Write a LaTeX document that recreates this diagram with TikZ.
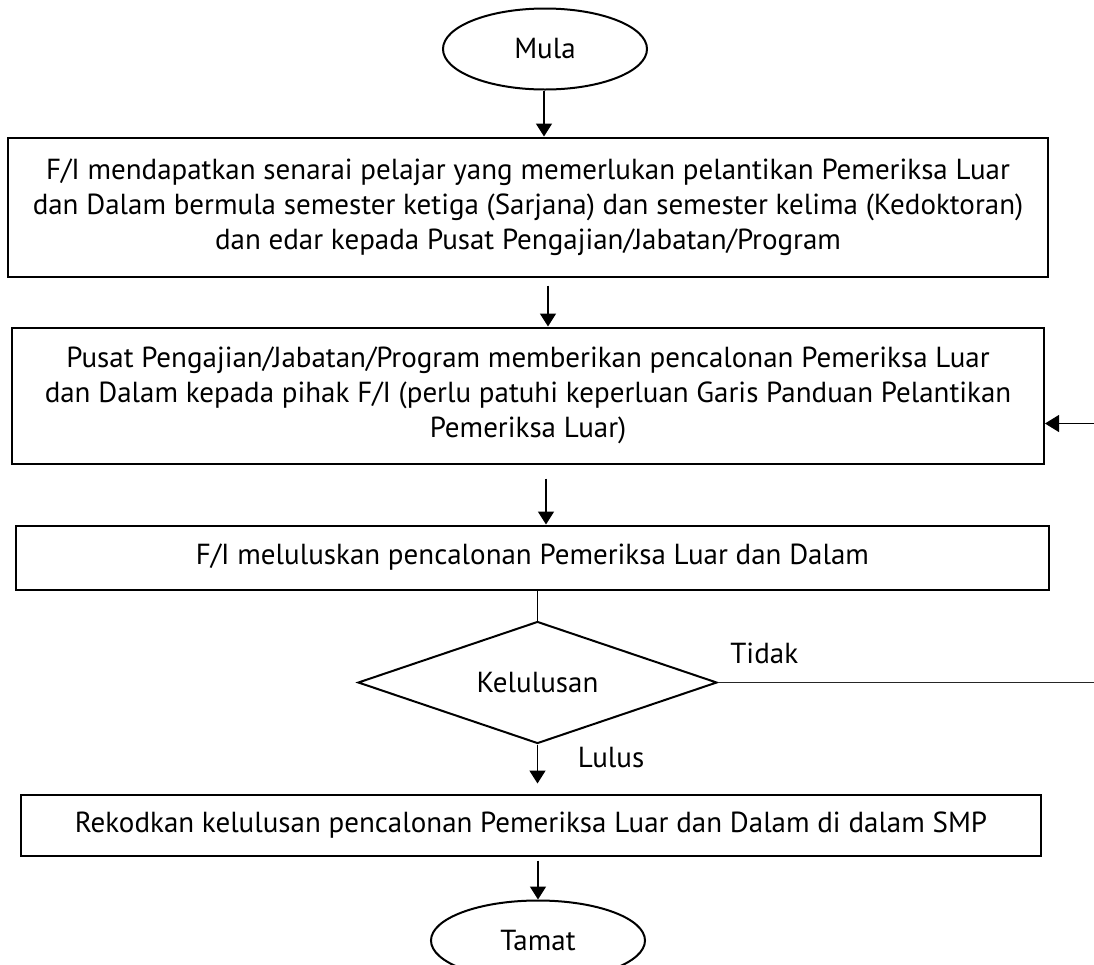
\documentclass[tikz,border=0pt]{standalone}
\usepackage{fontspec}
\setmainfont{PT Sans}
\usepackage{tikz}
\usetikzlibrary{shapes.geometric, arrows.meta, positioning, calc}

\begin{document}
\begin{tikzpicture}[
      node distance = 24pt,
      procbox/.style = {
        rectangle, draw=black, line width=1pt, fill=white,
        inner sep=1pt, align=center, text=black,
        font=\fontsize{14.5}{17.5}\selectfont
      },
      termbox/.style = {
        ellipse, draw=black, line width=1pt, fill=white,
        inner sep=0pt, text=black,
        font=\fontsize{14.5}{17.5}\selectfont
      },
      decbox/.style = {
        diamond, draw=black, line width=1pt, fill=white,
        aspect=2.94, inner sep=0pt, text=black,
        font=\fontsize{14.5}{17.5}\selectfont
      },
      arr/.style  = {-{Triangle[length=6.5pt,width=8pt]}, line width=0.8pt, color=black},
      ln/.style   = {line width=0.8pt, color=black},
      back/.style = {line width=0.5pt, color=black!85},
      lbl/.style  = {font=\fontsize{14.5}{17.5}\selectfont, text=black, inner sep=0pt}
    ]

      \useasboundingbox (0,0) rectangle (547pt,-482.5pt);
      \coordinate (edge) at (547pt,0);

      % ===================== Main column =====================
      \node[termbox, minimum width=102pt, minimum height=40.5pt] (mula) at (272.5pt,-24.5pt) {Mula};

      \node[procbox, minimum width=520pt, minimum height=69.5pt,
            below=23pt of mula, xshift=-8.5pt] (senarai)
        {F/I mendapatkan senarai pelajar yang memerlukan pelantikan Pemeriksa Luar\\
         dan Dalam bermula semester ketiga (Sarjana) dan semester kelima (Kedoktoran)\\
         dan edar kepada Pusat Pengajian/Jabatan/Program};

      \node[procbox, minimum width=516pt, minimum height=68pt,
            below=24.5pt of senarai] (calon)
        {Pusat Pengajian/Jabatan/Program memberikan pencalonan Pemeriksa Luar\\
         dan Dalam kepada pihak F/I (perlu patuhi keperluan Garis Panduan Pelantikan\\
         Pemeriksa Luar)};

      \node[procbox, minimum width=516.5pt, minimum height=32pt,
            below=30pt of calon, xshift=2.25pt] (lulus)
        {F/I meluluskan pencalonan Pemeriksa Luar dan Dalam};

      \node[decbox, minimum width=179.5pt, minimum height=61pt,
            below=15pt of lulus, xshift=2.5pt] (semak) {Kelulusan};

      \node[procbox, minimum width=510pt, minimum height=30.5pt,
            below=24.5pt of semak, xshift=-3.25pt] (rekod)
        {Rekodkan kelulusan pencalonan Pemeriksa Luar dan Dalam di dalam SMP};

      \node[termbox, minimum width=107pt, minimum height=40pt,
            below=21.5pt of rekod, xshift=3.5pt] (tamat) {Tamat};

      % ===================== Flow =====================
      \draw[arr] ([xshift=-0.5pt]mula.south) -- ([xshift=-0.5pt]mula.south |- senarai.north);
      \draw[arr, shorten <=4pt] ([xshift=10pt]senarai.south) -- ([xshift=10pt]senarai.south |- calon.north);
      \draw[arr, shorten <=7pt] ([xshift=9pt]calon.south) -- ([xshift=9pt]calon.south |- lulus.north);
      \draw[ln] (lulus.south -| semak.north) -- (semak.north);
      \draw[arr, shorten >=5pt] (semak.south) -- (semak.south |- rekod.north);
      \draw[arr, shorten <=2pt] (rekod.south -| tamat.north) -- (tamat.north);

      % Labels on the decision
      \node[lbl, right=20pt of semak.south, yshift=-6.5pt] (ya) {Lulus};
      \node[lbl, right=6pt of semak.east, yshift=14.5pt] (tidak) {Tidak};

      % Back path (runs off the right edge)
      \coordinate (tidakend) at (semak.east -| edge);
      \coordinate (backend) at ([yshift=-14pt]calon.east -| edge);
      \draw[back] (semak.east) -- (tidakend);
      \draw[back, -{Triangle[length=7pt,width=8.5pt]}, black] (backend) -- ([yshift=-14pt]calon.east);

    \end{tikzpicture}
\end{document}
